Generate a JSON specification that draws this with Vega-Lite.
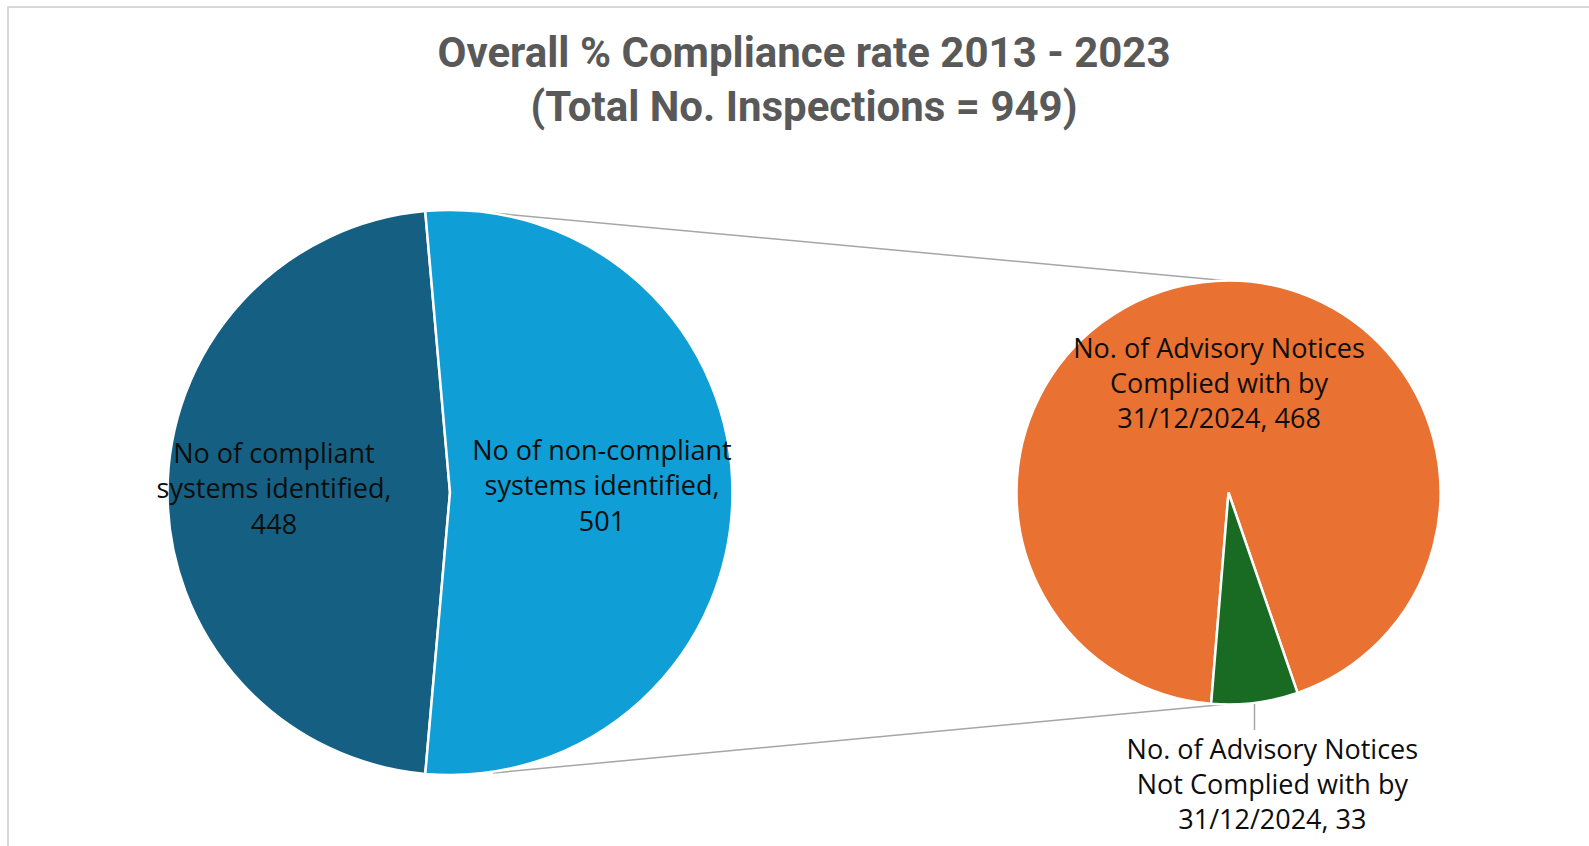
{
  "$schema": "https://vega.github.io/schema/vega-lite/v6.json",
  "width": 1589,
  "height": 706,
  "autosize": {"type": "none"},
  "padding": {"top": 140, "left": 0, "right": 0, "bottom": 0},
  "background": "white",
  "config": {"view": {"stroke": null}},
  "title": {
    "text": ["Overall % Compliance rate 2013 - 2023", "(Total No. Inspections = 949)"],
    "font": "Roboto",
    "fontSize": 42,
    "fontWeight": "bold",
    "color": "#595959",
    "lineHeight": 54,
    "anchor": "middle",
    "frame": "group",
    "dx": 9.5,
    "offset": -124
  },
  "datasets": {
    "slices": [
      {"pie": "Overall", "category": "No of compliant systems identified", "value": 448, "label": "No of compliant\nsystems identified,\n448"},
      {"pie": "Overall", "category": "No of non-compliant systems identified", "value": 501, "label": "No of non-compliant\nsystems identified,\n501"},
      {"pie": "Non-compliant breakdown", "category": "No. of Advisory Notices Complied with by 31/12/2024", "value": 468, "label": "No. of Advisory Notices\nComplied with by\n31/12/2024, 468"},
      {"pie": "Non-compliant breakdown", "category": "No. of Advisory Notices Not Complied with by 31/12/2024", "value": 33, "label": "No. of Advisory Notices\nNot Complied with by\n31/12/2024, 33"}
    ],
    "frame": [{}]
  },
  "resolve": {"scale": {"theta": "independent"}},
  "layer": [
    {
      "data": {"name": "frame"},
      "mark": {"type": "rect", "filled": false, "stroke": "#D9D9D9", "strokeWidth": 2},
      "encoding": {
        "x": {"datum": 8, "type": "quantitative", "scale": {"domain": [0, 1589], "range": [0, 1589], "nice": false, "zero": false}, "axis": null},
        "y": {"datum": 7, "type": "quantitative", "scale": {"domain": [140, 846], "range": [0, 706], "nice": false, "zero": false}, "axis": null},
        "x2": {"datum": 1620},
        "y2": {"datum": 880}
      }
    },
    {
      "data": {"name": "frame"},
      "mark": {"type": "rule", "stroke": "#A6A6A6", "strokeWidth": 1.5},
      "encoding": {
        "x": {"datum": 493, "type": "quantitative", "axis": null},
        "y": {"datum": 213, "type": "quantitative", "axis": null},
        "x2": {"datum": 1229},
        "y2": {"datum": 281}
      }
    },
    {
      "data": {"name": "frame"},
      "mark": {"type": "rule", "stroke": "#A6A6A6", "strokeWidth": 1.5},
      "encoding": {
        "x": {"datum": 493, "type": "quantitative", "axis": null},
        "y": {"datum": 773, "type": "quantitative", "axis": null},
        "x2": {"datum": 1229},
        "y2": {"datum": 704}
      }
    },
    {
      "data": {"name": "frame"},
      "mark": {"type": "rule", "stroke": "#A6A6A6", "strokeWidth": 1.5},
      "encoding": {
        "x": {"datum": 1254.5, "type": "quantitative", "axis": null},
        "y": {"datum": 702, "type": "quantitative", "axis": null},
        "x2": {"datum": 1254.5},
        "y2": {"datum": 730}
      }
    },
    {
      "data": {"name": "slices"},
      "transform": [{"filter": "datum.pie === 'Overall'"}],
      "mark": {"type": "arc", "outerRadius": 282.5, "stroke": "white", "strokeWidth": 2.5},
      "encoding": {
        "x": {"datum": 450, "type": "quantitative", "axis": null},
        "y": {"datum": 492.5, "type": "quantitative", "axis": null},
        "theta": {"field": "value", "type": "quantitative", "stack": true, "scale": {"range": [-0.0878, 6.1954], "nice": false, "zero": true}},
        "order": {"field": "value", "type": "quantitative", "sort": "descending"},
        "color": {
          "field": "category",
          "type": "nominal",
          "scale": {
            "domain": [
              "No of compliant systems identified",
              "No of non-compliant systems identified",
              "No. of Advisory Notices Complied with by 31/12/2024",
              "No. of Advisory Notices Not Complied with by 31/12/2024"
            ],
            "range": ["#156082", "#0F9ED5", "#E97132", "#196B24"]
          },
          "legend": null
        }
      }
    },
    {
      "data": {"name": "slices"},
      "transform": [{"filter": "datum.pie === 'Non-compliant breakdown'"}],
      "mark": {"type": "arc", "outerRadius": 212, "stroke": "white", "strokeWidth": 2.5},
      "encoding": {
        "x": {"datum": 1228.5, "type": "quantitative", "axis": null},
        "y": {"datum": 492.5, "type": "quantitative", "axis": null},
        "theta": {"field": "value", "type": "quantitative", "stack": true, "scale": {"range": [3.2237, 9.5069], "nice": false, "zero": true}},
        "order": {"field": "value", "type": "quantitative", "sort": "descending"},
        "color": {"field": "category", "type": "nominal", "legend": null}
      }
    },
    {
      "data": {"name": "slices"},
      "transform": [{"filter": "datum.pie === 'Overall'"}],
      "mark": {"type": "text", "font": "Open Sans", "fontSize": 27, "lineHeight": 35.5, "lineBreak": "\n", "fill": "#0d0d0d", "align": "center", "baseline": "middle", "dy": -38},
      "encoding": {
        "x": {"datum": 450, "type": "quantitative", "axis": null},
        "y": {"datum": 492.5, "type": "quantitative", "axis": null},
        "theta": {"field": "value", "type": "quantitative", "stack": true, "scale": {"range": [-0.0878, 6.1954], "nice": false, "zero": true}},
        "order": {"field": "value", "type": "quantitative", "sort": "descending"},
        "radius": {"value": 176},
        "text": {"condition": {"test": "datum.category === 'No of compliant systems identified'", "field": "label"}, "value": ""}
      }
    },
    {
      "data": {"name": "slices"},
      "transform": [{"filter": "datum.pie === 'Overall'"}],
      "mark": {"type": "text", "font": "Open Sans", "fontSize": 27, "lineHeight": 35.5, "lineBreak": "\n", "fill": "#0d0d0d", "align": "center", "baseline": "middle", "dy": -40.5},
      "encoding": {
        "x": {"datum": 450, "type": "quantitative", "axis": null},
        "y": {"datum": 492.5, "type": "quantitative", "axis": null},
        "theta": {"field": "value", "type": "quantitative", "stack": true, "scale": {"range": [-0.0878, 6.1954], "nice": false, "zero": true}},
        "order": {"field": "value", "type": "quantitative", "sort": "descending"},
        "radius": {"value": 152},
        "text": {"condition": {"test": "datum.category === 'No of non-compliant systems identified'", "field": "label"}, "value": ""}
      }
    },
    {
      "data": {"name": "slices"},
      "transform": [{"filter": "datum.pie === 'Non-compliant breakdown'"}],
      "mark": {"type": "text", "font": "Open Sans", "fontSize": 27, "lineHeight": 35, "lineBreak": "\n", "fill": "#0d0d0d", "align": "center", "baseline": "middle", "dx": 4, "dy": -35},
      "encoding": {
        "x": {"datum": 1228.5, "type": "quantitative", "axis": null},
        "y": {"datum": 492.5, "type": "quantitative", "axis": null},
        "theta": {"field": "value", "type": "quantitative", "stack": true, "scale": {"range": [3.2237, 9.5069], "nice": false, "zero": true}},
        "order": {"field": "value", "type": "quantitative", "sort": "descending"},
        "radius": {"value": 108},
        "text": {"condition": {"test": "datum.category === 'No. of Advisory Notices Complied with by 31/12/2024'", "field": "label"}, "value": ""}
      }
    },
    {
      "data": {"name": "slices"},
      "transform": [{"filter": "datum.pie === 'Non-compliant breakdown'"}],
      "mark": {"type": "text", "font": "Open Sans", "fontSize": 27, "lineHeight": 35, "lineBreak": "\n", "fill": "#0d0d0d", "align": "center", "baseline": "middle", "dx": 7, "dy": -35},
      "encoding": {
        "x": {"datum": 1228.5, "type": "quantitative", "axis": null},
        "y": {"datum": 492.5, "type": "quantitative", "axis": null},
        "theta": {"field": "value", "type": "quantitative", "stack": true, "scale": {"range": [3.2237, 9.5069], "nice": false, "zero": true}},
        "order": {"field": "value", "type": "quantitative", "sort": "descending"},
        "radius": {"value": 296},
        "text": {"condition": {"test": "datum.category === 'No. of Advisory Notices Not Complied with by 31/12/2024'", "field": "label"}, "value": ""}
      }
    }
  ]
}
